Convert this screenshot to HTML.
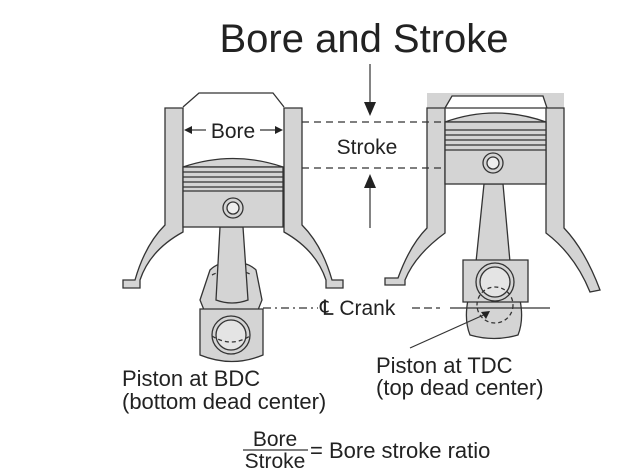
<!DOCTYPE html>
<html><head><style>
html,body{margin:0;padding:0;background:#fff;}
svg{display:block;}
text{font-family:"Liberation Sans",Arial,sans-serif;fill:#222;}
</style></head><body>
<svg width="628" height="471" viewBox="0 0 628 471" xmlns="http://www.w3.org/2000/svg">
<g stroke="#333" stroke-width="1.3" fill="#d4d4d4">
<!-- LEFT ENGINE -->
<path d="M183,107 L199,93 L273,93 L284,107" fill="#fff"/>
<path d="M165,108 L183,108 L183,232 Q150,250 140,280 L140,288 L123,288 L123,280 L135,280 Q145,245 165,225 Z"/>
<path d="M284,108 L302,108 L302,225 Q322,245 332,280 L343,280 L343,288 L326,288 L326,280 Q316,250 284,232 Z"/>
<path d="M210,270 Q218,262 232,262 Q248,262 256,270 L262,300 L258,310 L204,310 L200,300 Z"/>
<path d="M212,275 Q232,265 252,275" fill="none" stroke-dasharray="4,3"/>
<path d="M220,227 L243,227 L248,300 Q232,306 216,300 Z"/>
<path d="M183,167 Q233,150 283,167 Z"/>
<rect x="183" y="167" width="100" height="60"/>
<line x1="183" y1="172" x2="283" y2="172"/>
<line x1="183" y1="177" x2="283" y2="177"/>
<line x1="183" y1="182" x2="283" y2="182"/>
<line x1="183" y1="187" x2="283" y2="187"/>
<line x1="183" y1="191" x2="283" y2="191"/>
<circle cx="233" cy="208" r="10"/><circle cx="233" cy="208" r="6" fill="#eee"/>
<path d="M200,309 L263,309 L263,355 Q232,368 200,355 Z"/>
<circle cx="231" cy="335" r="19"/><circle cx="231" cy="335" r="15" fill="#e4e4e4"/>
<path d="M212,336 Q231,348 250,336" fill="none" stroke-dasharray="4,3"/>

<!-- RIGHT ENGINE -->
<rect x="427" y="93" width="137" height="15" fill="#d4d4d4" stroke="none"/>
<path d="M445,108 L452,96 L543,96 L547,108 Z" fill="#fff"/>
<path d="M427,108 L445,108 L445,233 Q415,255 405,280 L405,285 L385,285 L385,278 L398,278 Q410,245 427,228 Z"/>
<path d="M546,108 L564,108 L564,228 Q585,250 600,290 L590,292 Q575,255 546,233 Z"/>
<path d="M468,300 L520,300 Q524,320 518,335 Q494,342 470,335 Q464,320 468,300 Z"/>
<path d="M484,184 L503,184 L510,262 L476,262 Z"/>
<path d="M445,122 Q495,104 546,122 Z"/>
<rect x="445" y="122" width="101" height="62"/>
<line x1="445" y1="130" x2="546" y2="130"/>
<line x1="445" y1="135" x2="546" y2="135"/>
<line x1="445" y1="140" x2="546" y2="140"/>
<line x1="445" y1="145" x2="546" y2="145"/>
<line x1="445" y1="150" x2="546" y2="150"/>
<circle cx="493" cy="163" r="10"/><circle cx="493" cy="163" r="6" fill="#eee"/>
<path d="M463,260 L528,260 L528,302 L463,302 Z"/>
<circle cx="495" cy="282" r="19"/><circle cx="495" cy="282" r="15" fill="#e4e4e4"/>
<circle cx="495" cy="305" r="18" fill="none" stroke-dasharray="4,3"/>
</g>
<g stroke="#333" stroke-width="1.2" fill="none">
<line x1="302" y1="122" x2="445" y2="122" stroke-dasharray="7,5"/>
<line x1="302" y1="168" x2="445" y2="168" stroke-dasharray="7,5"/>
<line x1="263" y1="308" x2="318" y2="308" stroke-dasharray="8,4,2,4"/>
<line x1="412" y1="308" x2="440" y2="308" stroke-dasharray="8,4"/>
<line x1="450" y1="308" x2="550" y2="308"/>
<line x1="370" y1="64" x2="370" y2="105"/>
<line x1="370" y1="228" x2="370" y2="185"/>
<line x1="410" y1="348" x2="488" y2="313"/>
<line x1="190" y1="130" x2="206" y2="130"/>
<line x1="260" y1="130" x2="277" y2="130"/>
<line x1="243" y1="450" x2="308" y2="450"/>
</g>
<g fill="#222">
<polygon points="364,102 376,102 370,116"/>
<polygon points="364,188 376,188 370,174"/>
<polygon points="184,130 192,126 192,134"/>
<polygon points="283,130 275,126 275,134"/>
<polygon points="490,311 481,312 486,319"/>
</g>
<text x="364" y="52" font-size="40" text-anchor="middle">Bore and Stroke</text>
<text x="233" y="138" font-size="21" text-anchor="middle">Bore</text>
<text x="367" y="154" font-size="21" text-anchor="middle">Stroke</text>
<text x="320" y="315" font-size="21">℄ Crank</text>
<text x="122" y="386" font-size="22">Piston at BDC</text>
<text x="122" y="409" font-size="22">(bottom dead center)</text>
<text x="376" y="373" font-size="22">Piston at TDC</text>
<text x="376" y="395" font-size="22">(top dead center)</text>
<text x="275" y="446" font-size="21" text-anchor="middle">Bore</text>
<text x="275" y="468" font-size="21" text-anchor="middle">Stroke</text>
<text x="310" y="458" font-size="22">= Bore stroke ratio</text>
</svg>
</body></html>
